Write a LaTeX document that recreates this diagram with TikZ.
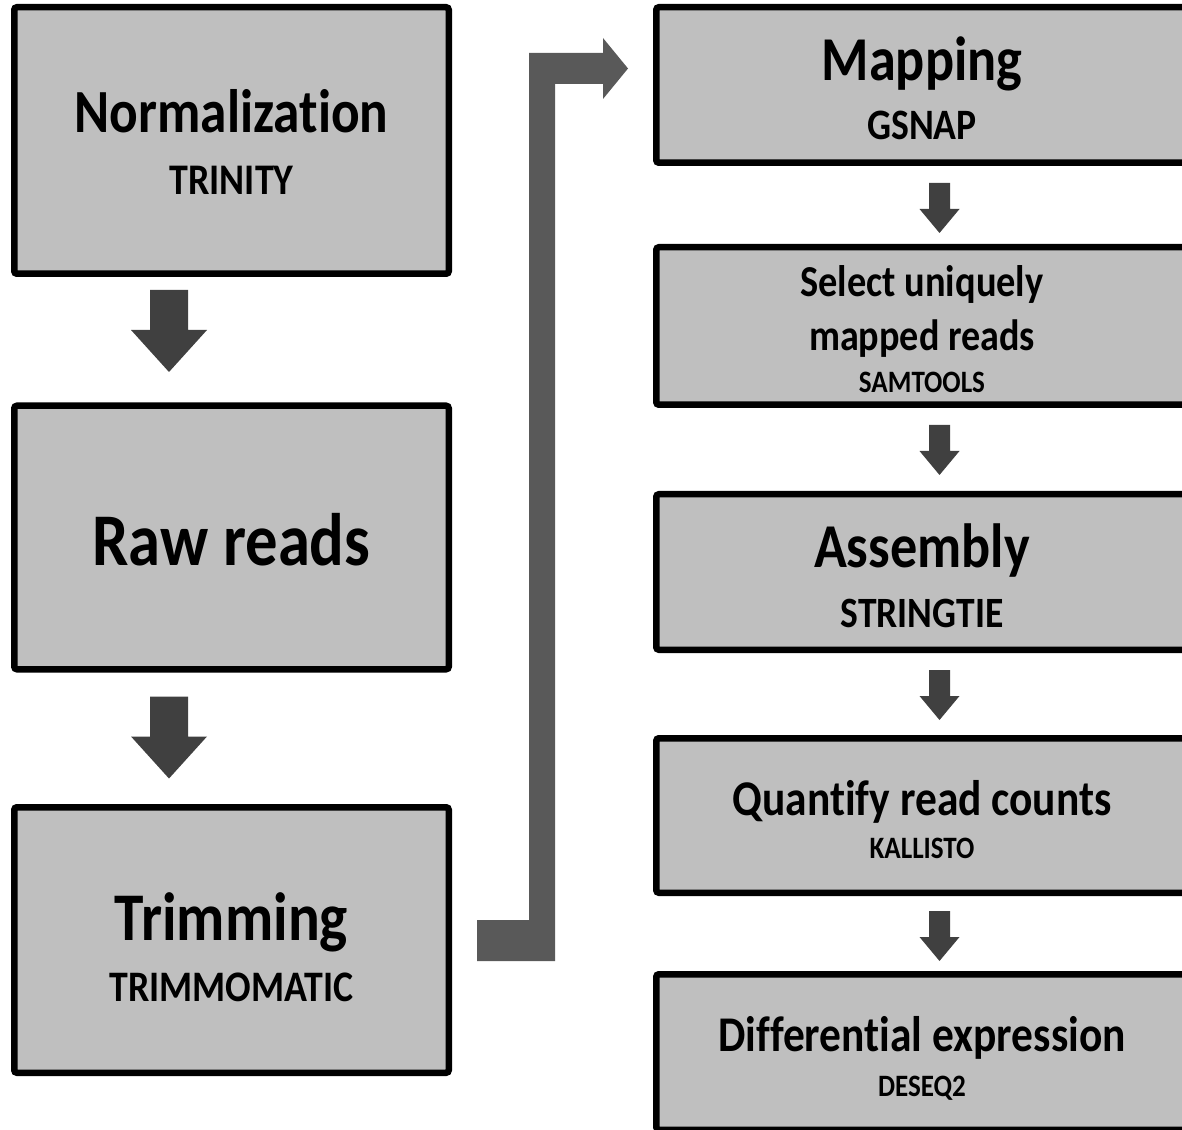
\documentclass[tikz,border=0pt]{standalone}
\usepackage{fontspec}
\usepackage{graphicx}
\setmainfont{Carlito}[RawFeature={-liga;-clig}]
\usetikzlibrary{calc,shadows}
\definecolor{boxgray}{HTML}{BFBFBF}
\definecolor{arrowdark}{HTML}{404040}
\definecolor{arrowmid}{HTML}{595959}
\newcommand{\tx}[2]{\fontsize{#1pt}{#1pt}\selectfont\scalebox{1}[1.15]{#2}}
\tikzset{
  box/.style={draw=black, fill=boxgray, line width=4.875pt, rounded corners=2pt, inner sep=0pt,
    drop shadow={shadow xshift=0pt, shadow yshift=-2.2pt, opacity=0.18}},
  lbl/.style={anchor=base, inner sep=0pt, font=\bfseries},
  downbig/.pic={\fill[arrowdark] (-19,-41) -- (19,-41) -- (19,-1) -- (38,-1) -- (0,41) -- (-38,-1) -- (-19,-1) -- cycle;},
  downsmall/.pic={\fill[arrowdark] (-10.5,-25) -- (10.5,-25) -- (10.5,1) -- (20,1) -- (0,25) -- (-20,1) -- (-10.5,1) -- cycle;}
}
\begin{document}
\begin{tikzpicture}[x=0.75pt, y=-0.75pt]
\useasboundingbox (0,0) rectangle (1182,1130);
% left column boxes
\node[box, minimum width=325.875pt, minimum height=199.875pt] (b1) at (231.5,140.5) {};
\node[box, minimum width=325.875pt, minimum height=197.625pt] (b2) at (231.5,537.5) {};
\node[box, minimum width=325.875pt, minimum height=199.125pt] (b3) at (231.5,940) {};
% right column boxes
\node[box, minimum width=399.375pt, minimum height=116.625pt] (r1) at (922.5,85) {};
\node[box, minimum width=399.375pt, minimum height=118.125pt] (r2) at (922.5,326) {};
\node[box, minimum width=399.375pt, minimum height=116.625pt] (r3) at (922.5,572) {};
\node[box, minimum width=399.375pt, minimum height=115.875pt] (r4) at (922.5,815.5) {};
\node[box, minimum width=399.375pt, minimum height=116.625pt] (r5) at (922.5,1052) {};
% texts
\node[lbl] (t1a) at (231.5,133) {\tx{40}{Normalization}};
\node[lbl] (t1b) at (231.5,195) {\tx{28.5}{TRINITY}};
\node[lbl] (t2a) at (231.5,565) {\tx{48.5}{Raw reads}};
\node[lbl] (t3a) at (231.5,940) {\tx{44.5}{Trimming}};
\node[lbl] (t3b) at (231.5,1001) {\tx{28.4}{TRIMMOMATIC}};
\node[lbl] (s1a) at (922,81) {\tx{40.7}{Mapping}};
\node[lbl] (s1b) at (922,140) {\tx{28.3}{GSNAP}};
\node[lbl] (s2a) at (922,297) {\tx{28.8}{Select uniquely}};
\node[lbl] (s2b) at (922,351) {\tx{28.6}{mapped reads}};
\node[lbl] (s2c) at (922,393) {\tx{20.3}{SAMTOOLS}};
\node[lbl] (s3a) at (922,567) {\tx{40.7}{Assembly}};
\node[lbl] (s3b) at (922,627) {\tx{28.2}{STRINGTIE}};
\node[lbl] (s4a) at (922,815) {\tx{32.6}{Quantify read counts}};
\node[lbl] (s4b) at (922,858) {\tx{20.3}{KALLISTO}};
\node[lbl] (s5a) at (922,1051) {\tx{32.6}{Differential expression}};
\node[lbl] (s5b) at (922,1096) {\tx{20.3}{DESEQ2}};
% block arrows
\pic at (169,331) {downbig};
\pic at (169,737.5) {downbig};
\pic at (939.5,208) {downsmall};
\pic at (939.5,450) {downsmall};
\pic at (939.5,695) {downsmall};
\pic at (939.5,936) {downsmall};
% bent arrow from Trimming to Mapping
\fill[arrowmid] (477,961) -- (555,961) -- (555,84) -- (603,84) -- (603,99) -- (628,68.5)
  -- (603,38) -- (603,53) -- (529,53) -- (529,920) -- (477,920) -- cycle;
\end{tikzpicture}
\end{document}
